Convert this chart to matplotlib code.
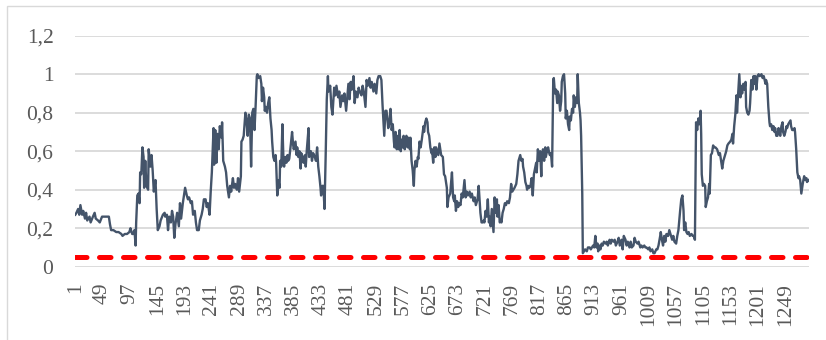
import matplotlib
matplotlib.use("Agg")
import matplotlib.pyplot as plt
from matplotlib.patches import Rectangle

# (observation, value) pairs of the normalised series, one list per stretch
seg_a = [(1, .27), (3, .28), (6, .30), (8, .27), (10, .32), (13, .27), (15, .29), (18, .25),
         (20, .28), (22, .24), (26, .26), (28, .23), (32, .26), (35, .28), (37, .25), (41, .24),
         (44, .23), (48, .26), (51, .26), (56, .26), (60, .26), (62, .22), (64, .19), (68, .19),
         (73, .18), (77, .18), (82, .17), (84, .16), (88, .17), (92, .17), (96, .18), (98, .20),
         (101, .17), (103, .17), (105, .19), (107, .11), (108, .23), (110, .37), (112, .38),
         (114, .33), (115, .49), (117, .48), (119, .62), (121, .57), (122, .41), (124, .55),
         (126, .42), (129, .40), (130, .61), (133, .52), (135, .58), (137, .50), (139, .39),
         (142, .45), (144, .30), (146, .19), (149, .21), (151, .24), (155, .27), (158, .28)]

seg_b = [(159, .26), (162, .27), (164, .19), (166, .26), (169, .23), (171, .29), (173, .26),
         (175, .15), (177, .22), (180, .28), (183, .21), (185, .33), (187, .25), (190, .33),
         (192, .37), (194, .41), (197, .37), (199, .35), (201, .36), (204, .33), (206, .34),
         (208, .27), (211, .29), (213, .23), (215, .19), (218, .19), (220, .24), (223, .27),
         (225, .30), (227, .35), (230, .35), (232, .31), (234, .33), (237, .27), (239, .39),
         (241, .49), (244, .72), (245, .53), (247, .71), (249, .54), (251, .69), (253, .61),
         (255, .73), (258, .67), (259, .75), (261, .55), (264, .52), (266, .49), (268, .42),
         (271, .36), (273, .42), (275, .39), (278, .46), (280, .41), (282, .43), (285, .40),
         (287, .46), (289, .39), (292, .47), (293, .65), (295, .66), (297, .68), (300, .80),
         (302, .76), (304, .68), (306, .79), (308, .77), (310, .52), (312, .80), (314, .82),
         (316, .71), (318, .84), (320, .99)]

seg_c = [(321, 1.0), (323, .98), (326, .99), (328, .95), (329, .86), (331, .93), (333, .88),
         (334, .81), (336, .83), (338, .80), (340, .85), (342, .88), (344, .77), (346, .71),
         (347, .65), (349, .57), (351, .55), (353, .58), (354, .54), (356, .37), (358, .45),
         (360, .41), (361, .55), (363, .52), (365, .74), (367, .54), (368, .52), (370, .57),
         (372, .54), (374, .58), (375, .55), (377, .56), (380, .64), (382, .70), (384, .63),
         (385, .61), (388, .65), (390, .58), (391, .62), (393, .57), (395, .60), (397, .51),
         (398, .59), (401, .57), (402, .54), (405, .58), (406, .52), (408, .61), (411, .72),
         (412, .57), (415, .60), (417, .55), (419, .59), (422, .57), (424, .55), (426, .62),
         (428, .52), (430, .47), (432, .41), (433, .37), (435, .42), (437, .42), (439, .30),
         (441, .57), (443, .87), (445, .99), (446, .91), (449, .94), (451, .83), (453, .79),
         (456, .93), (458, .89), (460, .94), (463, .88), (465, .91), (467, .83), (470, .89),
         (472, .86), (474, .90), (477, .81), (479, .88)]

seg_d = [(481, .95), (483, .87), (485, .96), (487, .92), (490, .99), (492, .85), (494, .91),
         (497, .88), (499, .93), (501, .91), (504, .89), (506, .94), (508, .91), (511, .83),
         (513, .97), (515, .94), (518, .98), (520, .93), (522, .96), (525, .91), (527, .95),
         (530, .90), (532, .97), (534, .99), (537, .99), (539, .97), (541, .84), (544, .68),
         (546, .81), (548, .81), (551, .72), (553, .75), (555, .82), (557, .71), (559, .74),
         (561, .65), (562, .62), (564, .70), (566, .61), (568, .68), (569, .61), (571, .71),
         (573, .60), (575, .66), (576, .62), (578, .68), (580, .61), (582, .67), (583, .68),
         (585, .62), (587, .67), (589, .61), (590, .67), (592, .55), (594, .50), (596, .42),
         (597, .50), (599, .55), (601, .52), (603, .57), (604, .56), (606, .65), (608, .62),
         (610, .66), (613, .73), (614, .70), (616, .75), (618, .77), (620, .75), (621, .70),
         (623, .68), (625, .62), (627, .59), (628, .61), (630, .54), (632, .62), (634, .57),
         (635, .62), (637, .60), (639, .58), (641, .64)]

seg_e = [(644, .58), (647, .57), (649, .48), (651, .47), (654, .41), (655, .31), (657, .36),
         (660, .38), (661, .42), (663, .49), (665, .36), (667, .34), (668, .37), (670, .29),
         (672, .34), (674, .31), (676, .33), (678, .32), (680, .38), (682, .36), (684, .42),
         (685, .45), (687, .36), (689, .39), (691, .37), (694, .39), (696, .36), (698, .38),
         (701, .34), (703, .36), (705, .32), (708, .35), (710, .42), (712, .33), (713, .28),
         (715, .23), (717, .23), (719, .24), (720, .23), (722, .29), (724, .26), (726, .35),
         (728, .23), (729, .26), (731, .21), (733, .30), (735, .22), (736, .18), (738, .36),
         (740, .28), (742, .35), (743, .26), (745, .32), (747, .23), (749, .24), (750, .23),
         (752, .28), (754, .30), (756, .33), (758, .32), (760, .34), (763, .33), (765, .36),
         (767, .43), (769, .39), (771, .40), (773, .41), (776, .43), (778, .48), (780, .55),
         (781, .56), (783, .58), (785, .55), (787, .56), (788, .52), (790, .49), (792, .44),
         (794, .42), (795, .40), (797, .42), (799, .41), (801, .42), (803, .46)]

seg_f = [(805, .37), (807, .48), (809, .51), (811, .54), (812, .49), (814, .61), (816, .55),
         (818, .60), (820, .47), (821, .57), (823, .61), (825, .55), (827, .62), (828, .57),
         (830, .60), (832, .62), (834, .59), (835, .58), (837, .59), (839, .52), (841, .97),
         (842, .98), (844, .90), (846, .92), (848, .85), (849, .91), (851, .89), (853, .81),
         (855, .86), (856, .96), (858, .99), (860, 1.0), (862, .90), (863, .77), (865, .81),
         (867, .74), (869, .71), (870, .78), (872, .76), (874, .82), (876, .80), (877, .89),
         (879, .83), (881, .88), (883, .85), (884, 1.0), (886, .85), (888, .80), (889, .76),
         (890, .68), (892, .38), (893, .07), (895, .08), (897, .09), (900, .08), (902, .10),
         (905, .10), (907, .09), (909, .10), (911, .11), (913, .10), (915, .16), (917, .10),
         (919, .12), (920, .08), (922, .11), (924, .09), (926, .12), (928, .11), (930, .13),
         (933, .12), (935, .13), (937, .11), (940, .14), (942, .12), (944, .14), (947, .13),
         (949, .14), (951, .11), (954, .13), (956, .15), (958, .11), (961, .14), (963, .09),
         (965, .16)]

seg_g = [(968, .14), (970, .11), (972, .13), (975, .10), (977, .13), (979, .10), (982, .11),
         (984, .15), (986, .13), (989, .12), (991, .13), (994, .10), (996, .11), (998, .10),
         (1001, .11), (1003, .10), (1005, .10), (1008, .09), (1010, .10), (1012, .08),
         (1015, .09), (1017, .07), (1019, .07), (1022, .09), (1024, .09), (1026, .11),
         (1029, .16), (1030, .18), (1032, .14), (1034, .11), (1036, .16), (1038, .13),
         (1040, .17), (1043, .16), (1045, .19), (1047, .17), (1050, .14), (1052, .16),
         (1054, .13), (1057, .12), (1059, .16), (1061, .19), (1064, .29), (1066, .35),
         (1068, .37), (1070, .29), (1071, .19), (1073, .23), (1075, .18), (1077, .17),
         (1079, .18), (1081, .16), (1084, .17), (1086, .16), (1088, .16), (1090, .14),
         (1092, .75), (1094, .71), (1096, .77), (1098, .74), (1100, .81), (1101, .69),
         (1102, .48), (1104, .42), (1106, .43), (1108, .42), (1109, .31), (1111, .34),
         (1113, .36), (1115, .43), (1116, .38), (1118, .58), (1120, .59), (1122, .63),
         (1124, .62), (1126, .62)]

seg_h = [(1129, .61), (1132, .58), (1134, .59), (1136, .55), (1138, .51), (1140, .55),
         (1142, .57), (1145, .60), (1147, .63), (1149, .64), (1152, .65), (1154, .66),
         (1156, .69), (1157, .64), (1159, .73), (1161, .79), (1163, .89), (1164, .80),
         (1166, .90), (1168, 1.0), (1170, .88), (1171, .94), (1173, .90), (1175, .95),
         (1177, .92), (1179, .96), (1180, .83), (1182, .80), (1184, .79), (1186, .81),
         (1187, .85), (1189, .97), (1191, .92), (1193, .99), (1194, .95), (1196, .99),
         (1198, .92), (1200, .99), (1202, 1.0), (1204, .99), (1207, 1.0), (1209, .98),
         (1211, .99), (1214, .95), (1215, .97), (1217, .95), (1219, .83), (1221, .75),
         (1222, .73), (1224, .74), (1226, .71), (1228, .73), (1230, .70), (1231, .72),
         (1233, .68), (1235, .68), (1237, .72), (1238, .70), (1240, .68), (1242, .73),
         (1244, .75), (1245, .70), (1247, .68), (1249, .70), (1251, .73), (1252, .72),
         (1254, .74), (1256, .75), (1258, .76), (1259, .73), (1261, .71), (1263, .71),
         (1265, .72), (1266, .70), (1268, .61), (1269, .55), (1270, .49), (1272, .46),
         (1273, .47), (1275, .45), (1277, .38), (1279, .42), (1280, .44), (1282, .47),
         (1284, .45), (1286, .46), (1287, .44), (1290, .45)]

n_obs = 1290
threshold = 0.05
x_tick_labels = ["1", "49", "97", "145", "193", "241", "289", "337", "385", "433", "481",
                 "529", "577", "625", "673", "721", "769", "817", "865", "913", "961",
                 "1009", "1057", "1105", "1153", "1201", "1249"]
y_ticks = [0, 0.2, 0.4, 0.6, 0.8, 1.0, 1.2]
y_tick_labels = ["0", "0,2", "0,4", "0,6", "0,8", "1", "1,2"]

series = seg_a + seg_b + seg_c + seg_d + seg_e + seg_f + seg_g + seg_h
obs = [p[0] for p in series]
vals = [p[1] for p in series]

plt.rcParams["font.family"] = ["Liberation Serif", "DejaVu Serif"]

W, H = 826, 340
fig = plt.figure(figsize=(W / 100, H / 100), dpi=100)
fig.patch.set_facecolor("white")
ax = fig.add_axes([75 / W, 73.3 / H, 734 / W, 231 / H])

ax.plot(obs, vals, color="#44546A", lw=1.7, solid_joinstyle="round", zorder=3)
ax.axhline(threshold, color="#FF0000", lw=3.6, linestyle=(0, (2.3, 2.5)),
           dash_capstyle="round", zorder=4)

ax.set_xlim(0.5, n_obs + 0.5)
ax.set_ylim(0, 1.2)
ax.set_yticks(y_ticks)
ax.set_yticklabels(y_tick_labels)
ax.set_xticks([int(t) for t in x_tick_labels])
ax.set_xticklabels(x_tick_labels, rotation=90)

ax.yaxis.grid(True, color="#D9D9D9", lw=1.3)
ax.set_axisbelow(True)
for s in ax.spines.values():
    s.set_visible(False)
ax.tick_params(axis="y", length=0, labelsize=15.5, labelcolor="#595959", pad=15.5)
ax.tick_params(axis="x", length=0, labelsize=15.5, labelcolor="#595959", pad=11.5)

# chart frame
fig.patches.append(Rectangle((7 / W, -0.1), 1.2, 1.1 - 6 / H, transform=fig.transFigure,
                             fill=False, edgecolor="#D9D9D9", lw=1.0))

fig.savefig("out.png", dpi=100)
